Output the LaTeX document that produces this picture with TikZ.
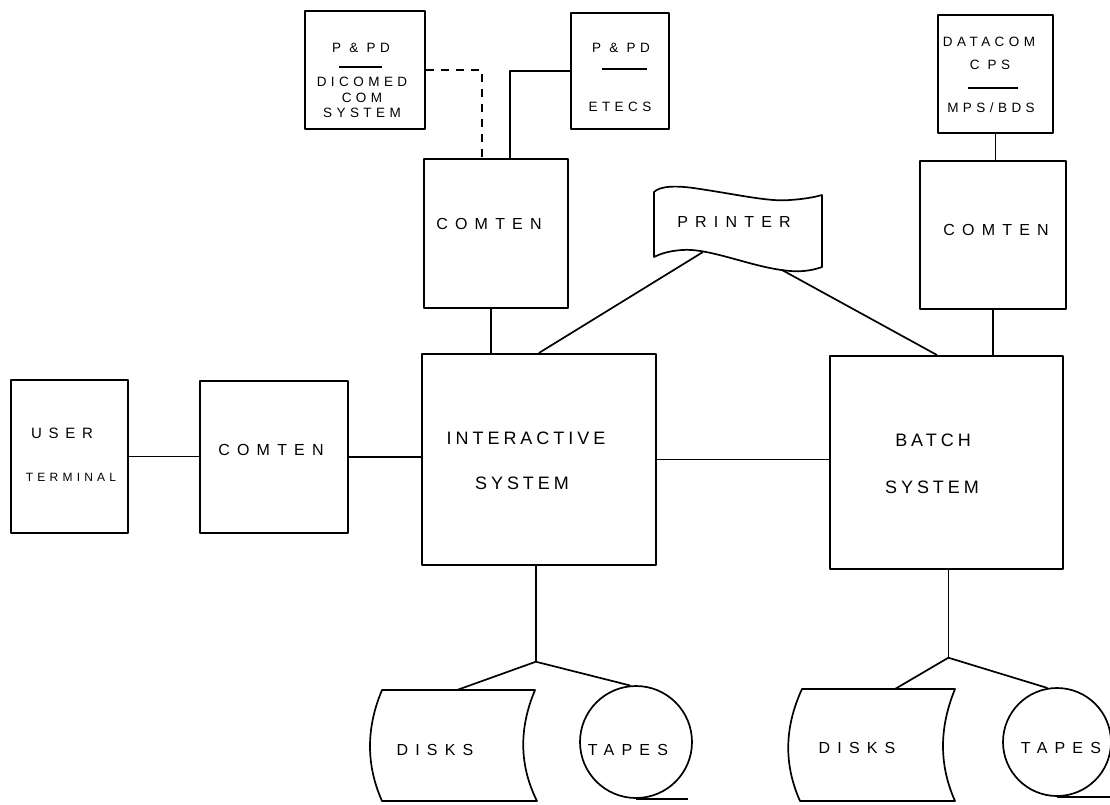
\documentclass[tikz,border=0pt]{standalone}
\usepackage{fontspec}
\newfontfamily\handS[LetterSpace=33]{Liberation Sans}
\newfontfamily\handM[LetterSpace=45]{Liberation Sans}
\newfontfamily\handB[LetterSpace=22]{Liberation Sans}
\newfontfamily\handT[LetterSpace=35]{Liberation Sans}
\usetikzlibrary{calc}
\begin{document}
\begin{tikzpicture}[x=1pt,y=-1pt,line width=1.7pt,line join=round,
  box/.style={draw,rectangle,inner sep=0pt,anchor=north west},
  tl/.style={inner sep=0pt,font=\handS\fontsize{13.5}{15}\selectfont},
  tm/.style={inner sep=0pt,font=\handM\fontsize{16}{18}\selectfont},
  tb/.style={inner sep=0pt,font=\handB\fontsize{18}{20}\selectfont},
  rulestyle/.style={line width=1.3pt},
  dashline/.style={dashed,dash pattern=on 8pt off 7pt}]
\fill[white] (0,0) rectangle (1110,804);
\useasboundingbox (0,0) rectangle (1110,804);

% boxes
\node[box,minimum width=120,minimum height=118] (dic) at (304,10) {};
\node[box,minimum width=98,minimum height=116] (ets) at (570,12) {};
\node[box,minimum width=115,minimum height=118] (dat) at (937,14) {};
\node[box,minimum width=144,minimum height=149] (com1) at (423,158) {};
\node[box,minimum width=146,minimum height=148] (com2) at (919,160) {};
\node[box,minimum width=117,minimum height=153] (usr) at (10,379) {};
\node[box,minimum width=148,minimum height=152] (com0) at (199,380) {};
\node[box,minimum width=234,minimum height=211] (inter) at (421,353) {};
\node[box,minimum width=233,minimum height=213] (batch) at (829,355) {};

% texts in boxes
\node[tl] (dic1) at (361,48) {P \& PD};
\draw[rulestyle] (339,67) -- (382,67);
\node[tl] (dic2) at (362,82) {DICOMED};
\node[tl] (dic3) at (362,98) {COM};
\node[tl] (dic4) at (362,113) {SYSTEM};

\node[tl] (ets1) at (621,48) {P \& PD};
\draw[rulestyle] (602,69) -- (647,69);
\node[tl] (ets2) at (620,107) {ETECS};

\node[tl] (dat1) at (989,42) {DATACOM};
\node[tl] (dat2) at (990,65) {C PS};
\draw[rulestyle] (968,88) -- (1018,88);
\node[tl] (dat3) at (991,108) {MPS/BDS};

\node[tm] (com1t) at (489,224) {COMTEN};
\node[tm] (com2t) at (996,230) {COMTEN};
\node[tm] (com0t) at (271,450) {COMTEN};
\node[inner sep=0pt,font=\handM\fontsize{15}{17}\selectfont] (usr1) at (62,433) {USER};
\node[inner sep=0pt,font=\handT\fontsize{12}{14}\selectfont] (usr2) at (71,477) {TERMINAL};
\node[tb] (int1) at (526,438) {INTERACTIVE};
\node[tb] (int2) at (522,483) {SYSTEM};
\node[tb] (bat1) at (933,440) {BATCH};
\node[tb] (bat2) at (932,487) {SYSTEM};

% printer
\draw (654,192) .. controls (660,186) and (676,185) .. (700,189)
  .. controls (740,195) and (770,202) .. (790,200)
  .. controls (805,199) and (815,197) .. (822,195) -- (822,267)
  .. controls (805,273) and (790,272) .. (770,268)
  .. controls (740,262) and (705,248) .. (682,250)
  .. controls (668,251) and (660,254) .. (654,257) -- cycle;
\node[tm] (prn) at (734,222) {PRINTER};
\coordinate (p1) at (703,252);
\coordinate (p2) at (782,270);

% connectors top
\coordinate (d1) at ($(com1.north west)!0.403!(com1.north east)$);
\coordinate (e1) at ($(com1.north west)!0.597!(com1.north east)$);
\draw[dashline] (dic.east) -| (d1);
\draw (ets.west) -| (e1);
\coordinate (c1) at ($(com1.south west)!0.465!(com1.south east)$);
\draw (c1) -- (c1 |- inter.north);
\draw (dat.south) -- (dat.south |- com2.north);
\draw (com2.south) -- (com2.south |- batch.north);
\draw (p1) -- (inter.north);
\draw (p2) -- ($(batch.north west)!0.46!(batch.north east)$);

% connectors middle
\draw (usr.east) -- (usr.east -| com0.west);
\draw (com0.east) -- (com0.east -| inter.west);
\draw (inter.east) -- (inter.east -| batch.west);

% storage left
\coordinate (b1) at ($(inter.south)+(-3,96)$);
\draw ($(inter.south)+(-3,0)$) -- (b1);
\draw (382,690) -- (535,690) .. controls (519,728) and (519,765) .. (537,801)
  -- (382,801) .. controls (366,765) and (366,728) .. (382,690) -- cycle;
\coordinate (dk1) at (457,690);
\node[tm] (dsk1) at (435,750) {DISKS};
\node[circle,draw,minimum size=112,inner sep=0pt] (tp1) at (636,742) {};
\node[tm] (tap1) at (628,750) {TAPES};
\draw (b1) -- (dk1);
\draw (b1) -- (tp1.96);
\draw (tp1.south) -- ++(52,0);

% storage right
\coordinate (b2) at ($(batch.south)+(2,88)$);
\draw ($(batch.south)+(2,0)$) -- (b2);
\draw (802,689) -- (955,689) .. controls (939,728) and (939,765) .. (955,801)
  -- (800,801) .. controls (784,765) and (784,728) .. (802,689) -- cycle;
\coordinate (dk2) at (895,689);
\node[tm] (dsk2) at (857,748) {DISKS};
\node[circle,draw,minimum size=108,inner sep=0pt] (tp2) at (1057,742) {};
\node[tm] (tap2) at (1061,748) {TAPES};
\draw (b2) -- (dk2);
\draw (b2) -- (tp2.100);
\draw (tp2.south) -- ++(60,0);
\end{tikzpicture}
\end{document}
